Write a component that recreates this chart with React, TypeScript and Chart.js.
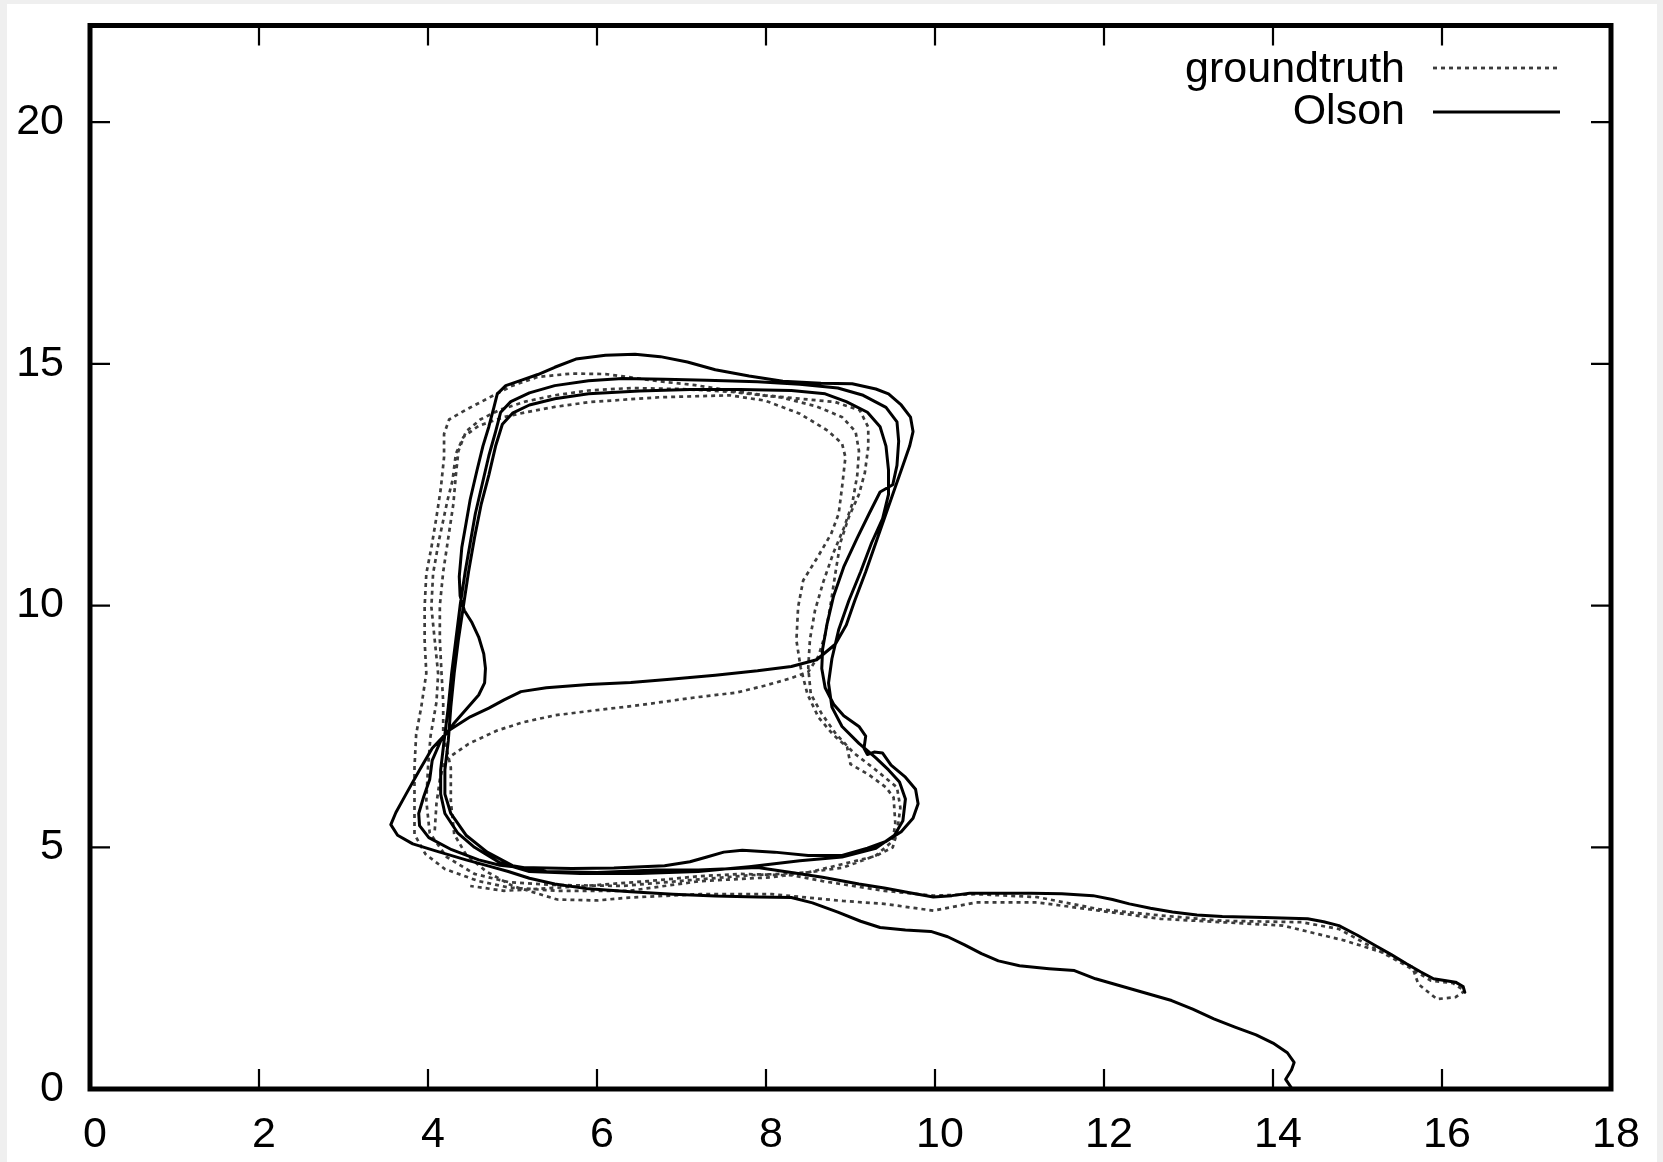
import { useEffect, useRef } from 'react';
import { Chart, registerables } from 'chart.js';

Chart.register(...registerables);

// ---- axes ----
const X_MIN = 0;
const X_MAX = 18;
const Y_MIN = 0;
const Y_MAX = 22;
const xTickValues = [0, 2, 4, 6, 8, 10, 12, 14, 16, 18];
const yTickValues = [0, 5, 10, 15, 20];
const seriesNames = ['groundtruth', 'Olson'];

// ---- Olson (solid) trajectory pieces, [x, y] ----
const olsonLowerBranch = [
  [14.22, 0.02], [14.15, 0.2], [14.22, 0.4], [14.25, 0.55], [14.17, 0.75], [14.0, 0.95], [13.8, 1.12],
  [13.55, 1.28], [13.3, 1.45], [13.05, 1.65], [12.8, 1.83], [12.5, 1.98], [12.2, 2.13], [11.9, 2.28],
  [11.65, 2.45], [11.35, 2.49], [11.0, 2.55], [10.75, 2.65], [10.55, 2.8], [10.35, 2.98], [10.15, 3.15],
  [9.95, 3.26], [9.65, 3.29], [9.35, 3.34], [9.12, 3.47], [8.85, 3.66], [8.55, 3.85], [8.3, 3.96],
  [7.9, 3.97], [7.4, 3.99], [6.9, 4.03], [6.4, 4.08], [5.9, 4.14], [5.5, 4.24], [5.2, 4.36], [4.95, 4.5],
];
const olsonLoopA = [
  [4.7, 4.62], [4.45, 4.74], [4.1, 4.92], [3.82, 5.07], [3.64, 5.25], [3.56, 5.47], [3.62, 5.72],
  [3.74, 6.1], [3.9, 6.6], [4.05, 7.05], [4.25, 7.42], [4.5, 7.7], [4.72, 7.88], [4.9, 8.05], [5.1, 8.22],
  [5.4, 8.3], [5.9, 8.37], [6.4, 8.41], [6.9, 8.48], [7.4, 8.56], [7.9, 8.65], [8.3, 8.74], [8.6, 8.88],
  [8.82, 9.2], [8.95, 9.6], [9.05, 10.1], [9.18, 10.7], [9.3, 11.3], [9.42, 11.9], [9.52, 12.4],
  [9.62, 12.9], [9.7, 13.3], [9.74, 13.6], [9.71, 13.9], [9.6, 14.15], [9.45, 14.38], [9.3, 14.48],
  [9.02, 14.59], [8.65, 14.6], [8.2, 14.64], [7.8, 14.75], [7.4, 14.88], [7.07, 15.04], [6.75, 15.15],
  [6.45, 15.2], [6.1, 15.18], [5.75, 15.1], [5.5, 14.93], [5.3, 14.78], [5.1, 14.66], [4.92, 14.55],
  [4.82, 14.38], [4.78, 14.1], [4.72, 13.7], [4.65, 13.3], [4.58, 12.8], [4.5, 12.2], [4.45, 11.7],
  [4.4, 11.2], [4.37, 10.6], [4.38, 10.2], [4.43, 9.9], [4.52, 9.65], [4.6, 9.35], [4.66, 9.0],
  [4.68, 8.7], [4.67, 8.4], [4.6, 8.15], [4.45, 7.85], [4.3, 7.55], [4.15, 7.2], [4.05, 6.8], [4.02, 6.4],
  [3.95, 6.05], [3.89, 5.7], [3.9, 5.45], [4.01, 5.2], [4.28, 4.95], [4.6, 4.74], [4.85, 4.63],
  [5.1, 4.58], [5.7, 4.56], [6.2, 4.57], [6.8, 4.62], [7.1, 4.7], [7.3, 4.8], [7.5, 4.9], [7.72, 4.94],
  [8.1, 4.9], [8.5, 4.83], [8.9, 4.83], [9.2, 4.98], [9.42, 5.12], [9.6, 5.32], [9.74, 5.6], [9.8, 5.9],
  [9.77, 6.2], [9.65, 6.45], [9.48, 6.7], [9.38, 6.95], [9.28, 6.97], [9.2, 6.92], [9.16, 7.05],
  [9.18, 7.3], [9.1, 7.5], [8.92, 7.72], [8.8, 7.96], [8.7, 8.3], [8.66, 8.7],
];
const olsonLoopB = [
  [8.67, 9.1], [8.72, 9.6], [8.8, 10.2], [8.92, 10.8], [9.08, 11.4], [9.22, 11.9], [9.35, 12.35],
  [9.5, 12.5], [9.55, 12.9], [9.57, 13.4], [9.55, 13.8], [9.42, 14.1], [9.15, 14.35], [8.85, 14.5],
  [8.4, 14.58], [7.9, 14.63], [7.3, 14.66], [6.8, 14.68], [6.3, 14.7], [5.9, 14.65], [5.5, 14.55],
  [5.2, 14.4], [4.98, 14.22], [4.86, 14.0], [4.8, 13.6], [4.72, 13.1], [4.64, 12.5], [4.56, 11.9],
  [4.5, 11.3], [4.44, 10.7], [4.38, 10.0], [4.33, 9.3], [4.28, 8.6], [4.24, 7.9], [4.19, 7.2],
  [4.15, 6.6], [4.15, 6.1], [4.2, 5.7], [4.35, 5.3], [4.55, 5.0], [4.85, 4.68], [5.2, 4.5], [5.8, 4.46],
  [6.5, 4.46], [7.2, 4.5], [7.8, 4.6], [8.4, 4.72], [8.9, 4.8], [9.3, 4.98], [9.52, 5.25], [9.62, 5.55],
  [9.65, 6.0], [9.58, 6.35], [9.45, 6.6], [9.3, 6.85], [9.1, 7.15], [8.9, 7.5], [8.78, 7.9], [8.74, 8.4],
];
const olsonLoopC = [
  [8.78, 8.9], [8.86, 9.5], [8.98, 10.1], [9.12, 10.7], [9.25, 11.3], [9.38, 11.8], [9.45, 12.3],
  [9.45, 12.8], [9.42, 13.3], [9.35, 13.7], [9.2, 14.0], [8.95, 14.22], [8.7, 14.38], [8.3, 14.45],
  [7.7, 14.47], [7.1, 14.47], [6.5, 14.44], [5.9, 14.38], [5.5, 14.28], [5.2, 14.15], [5.0, 13.98],
  [4.88, 13.75], [4.8, 13.3], [4.72, 12.7], [4.63, 12.1], [4.55, 11.4], [4.48, 10.7], [4.42, 10.0],
  [4.36, 9.3], [4.31, 8.6], [4.27, 7.9], [4.24, 7.2], [4.2, 6.6], [4.2, 6.1], [4.27, 5.7], [4.45, 5.25],
  [4.7, 4.9], [5.0, 4.62], [5.4, 4.5], [6.0, 4.48], [6.7, 4.53],
];
const olsonCorridor = [
  [7.2, 4.53], [7.9, 4.58], [8.3, 4.48], [8.67, 4.38], [9.1, 4.24], [9.4, 4.16], [9.7, 4.06], [9.98, 3.97],
  [10.2, 4.0], [10.41, 4.05], [10.8, 4.05], [11.14, 4.05], [11.5, 4.04], [11.87, 4.0], [12.1, 3.92],
  [12.3, 3.83], [12.55, 3.74], [12.81, 3.66], [13.1, 3.6], [13.4, 3.57], [13.9, 3.55], [14.41, 3.52],
  [14.6, 3.46], [14.78, 3.38], [15.0, 3.18], [15.21, 2.97], [15.4, 2.78], [15.58, 2.59], [15.75, 2.42],
  [15.9, 2.28], [16.05, 2.24], [16.16, 2.21], [16.25, 2.12], [16.27, 2.0],
];

// ---- groundtruth (dotted) trajectory pieces, [x, y] ----
const gtMiddleAndLoop1 = [
  [4.08, 5.35], [4.1, 5.9], [4.14, 6.4], [4.2, 6.8], [4.48, 7.14], [4.81, 7.41], [5.11, 7.58], [5.5, 7.73],
  [5.96, 7.83], [6.5, 7.94], [7.16, 8.1], [7.65, 8.2], [8.0, 8.35], [8.3, 8.5], [8.5, 8.63], [8.62, 8.95],
  [8.7, 9.4], [8.76, 9.97], [8.82, 10.66], [8.88, 11.3], [8.98, 11.83], [9.1, 12.3], [9.17, 12.75],
  [9.21, 13.28], [9.21, 13.69], [9.11, 14.04], [8.82, 14.21], [8.4, 14.28], [7.99, 14.35], [7.57, 14.45],
  [7.16, 14.56], [6.74, 14.64], [6.4, 14.72], [6.1, 14.79], [5.7, 14.8], [5.3, 14.73], [5.0, 14.55],
  [4.7, 14.28], [4.45, 14.05], [4.25, 13.85], [4.19, 13.55], [4.19, 13.07], [4.15, 12.4], [4.1, 11.83],
  [4.04, 11.2], [3.98, 10.66], [3.96, 9.97], [3.96, 9.28], [3.98, 8.6], [3.92, 7.9], [3.86, 7.34],
  [3.84, 6.65], [3.84, 5.96], [3.84, 5.27], [3.97, 4.86], [4.2, 4.55], [4.6, 4.3], [4.95, 4.17],
  [5.53, 4.1], [6.38, 4.1], [7.22, 4.3], [8.07, 4.38], [8.91, 4.58], [9.3, 4.83], [9.5, 5.13], [9.53, 5.5],
  [9.51, 6.03], [9.42, 6.24], [9.21, 6.51], [9.0, 6.72], [8.96, 7.07], [8.79, 7.34], [8.62, 7.69],
  [8.49, 8.17], [8.41, 8.72],
];
const gtLoop2 = [
  [8.36, 9.28], [8.38, 9.97], [8.44, 10.52], [8.61, 11.0], [8.77, 11.48], [8.86, 11.9], [8.9, 12.45],
  [8.94, 13.07], [8.9, 13.35], [8.73, 13.62], [8.4, 13.97], [7.99, 14.24], [7.57, 14.35], [6.74, 14.31],
  [5.91, 14.21], [5.5, 14.11], [5.16, 14.0], [4.9, 13.9], [4.6, 13.72], [4.42, 13.49], [4.33, 13.14],
  [4.29, 12.59], [4.23, 12.17], [4.13, 11.35], [4.06, 10.66], [4.04, 9.97], [4.08, 9.28], [4.12, 8.59],
  [4.1, 8.0], [4.03, 7.3], [4.0, 6.65], [3.98, 5.96], [4.02, 5.3], [4.22, 4.8], [4.55, 4.45], [4.95, 4.28],
  [5.5, 4.22], [6.3, 4.2], [7.1, 4.32], [7.8, 4.42], [8.5, 4.48], [8.9, 4.65], [9.3, 4.82], [9.5, 5.0],
  [9.55, 5.3], [9.59, 5.82], [9.55, 6.24], [9.3, 6.6], [9.04, 6.95], [8.83, 7.34], [8.66, 7.76],
  [8.53, 8.17], [8.5, 8.72],
];
const gtLoop3 = [
  [8.52, 9.3], [8.58, 9.9], [8.68, 10.5], [8.8, 11.1], [8.92, 11.6], [9.02, 12.1], [9.08, 12.7],
  [9.1, 13.2], [9.06, 13.6], [8.9, 13.9], [8.6, 14.12], [8.2, 14.3], [7.6, 14.42], [7.0, 14.48],
  [6.4, 14.5], [5.9, 14.45], [5.5, 14.35], [5.15, 14.22], [4.85, 14.05], [4.62, 13.85], [4.45, 13.6],
  [4.36, 13.2], [4.33, 12.7], [4.3, 12.1], [4.24, 11.4], [4.18, 10.7], [4.14, 10.0], [4.14, 9.3],
  [4.16, 8.6], [4.18, 8.0], [4.18, 7.34], [4.27, 6.65], [4.27, 5.96], [4.31, 5.27], [4.45, 4.85],
  [4.69, 4.5], [5.0, 4.2], [5.53, 3.92], [6.0, 3.9], [6.38, 3.96],
];
const gtCorridor = [
  [7.22, 4.03], [8.07, 4.03], [8.91, 3.89], [9.4, 3.83], [9.98, 3.69], [10.49, 3.86], [11.21, 3.86],
  [11.94, 3.69], [12.67, 3.52], [13.4, 3.45], [14.12, 3.38], [14.85, 3.07], [15.36, 2.79], [15.65, 2.52],
  [15.72, 2.17], [15.94, 1.86], [16.16, 1.9], [16.27, 2.03], [16.13, 2.19], [15.87, 2.24], [15.58, 2.55],
  [15.21, 2.9], [14.78, 3.31], [14.34, 3.45], [13.4, 3.48], [12.67, 3.59], [11.94, 3.72], [11.21, 3.97],
  [10.49, 4.03], [9.98, 4.0], [9.4, 4.1], [8.67, 4.3], [8.31, 4.42], [7.7, 4.45], [7.2, 4.4], [6.6, 4.3],
  [6.0, 4.22], [5.4, 4.15], [4.9, 4.1], [4.5, 4.2],
];

const olsonPath = [olsonLowerBranch, olsonLoopA, olsonLoopB, olsonLoopC, olsonCorridor];
const groundtruthPath = [gtMiddleAndLoop1, gtLoop2, gtLoop3, gtCorridor];

const toPoints = (pieces: number[][][]) =>
  pieces.flat().map(([x, y]) => ({ x, y }));

const FONT = '"Liberation Sans", Arial, Helvetica, sans-serif';
const FONT_SIZE = 43;
const DOT_DASH = [4, 4];
const GT_COLOR = '#3c3c3c';

const frameLegendPlugin = {
  id: 'frameLegend',
  afterDatasetsDraw(chart: any) {
    const { ctx, chartArea: a, scales } = chart;
    const TICK = 20;
    ctx.save();
    ctx.strokeStyle = '#000';
    ctx.lineWidth = 2.2;
    ctx.setLineDash([]);
    ctx.beginPath();
    for (const v of xTickValues) {
      if (v === X_MIN || v === X_MAX) continue;
      const px = scales.x.getPixelForValue(v);
      ctx.moveTo(px, a.bottom);
      ctx.lineTo(px, a.bottom - TICK);
      ctx.moveTo(px, a.top);
      ctx.lineTo(px, a.top + TICK);
    }
    for (const v of yTickValues) {
      if (v === Y_MIN || v === Y_MAX) continue;
      const py = scales.y.getPixelForValue(v);
      ctx.moveTo(a.left, py);
      ctx.lineTo(a.left + TICK, py);
      ctx.moveTo(a.right, py);
      ctx.lineTo(a.right - TICK, py);
    }
    ctx.stroke();
    ctx.lineWidth = 5;
    ctx.strokeRect(a.left, a.top, a.right - a.left, a.bottom - a.top);

    // legend (text right-aligned, sample line to its right)
    ctx.font = `${FONT_SIZE}px ${FONT}`;
    ctx.fillStyle = '#000';
    ctx.textAlign = 'right';
    ctx.textBaseline = 'alphabetic';
    const textRight = 1398;
    const lineX0 = 1426;
    const lineX1 = 1553;
    const rows = [
      { baseline: 78, lineY: 64 },
      { baseline: 120, lineY: 108 },
    ];
    chart.data.datasets.forEach((ds: any, i: number) => {
      const r = rows[i];
      ctx.fillText(seriesNames[i], textRight, r.baseline);
      ctx.beginPath();
      ctx.strokeStyle = ds.borderColor;
      ctx.lineWidth = i === 0 ? 2.8 : 3.2;
      ctx.setLineDash(ds.borderDash || []);
      ctx.moveTo(lineX0, r.lineY);
      ctx.lineTo(lineX1, r.lineY);
      ctx.stroke();
    });
    ctx.restore();
  },
};

export default function App() {
  const canvasRef = useRef<HTMLCanvasElement | null>(null);

  useEffect(() => {
    document.body.style.margin = '0';
    document.body.style.background = '#efefef';
    const canvas = canvasRef.current;
    if (!canvas) return;
    const chart = new Chart(canvas, {
      type: 'scatter',
      data: {
        datasets: [
          {
            label: seriesNames[0],
            data: toPoints(groundtruthPath),
            showLine: true,
            borderColor: GT_COLOR,
            borderWidth: 2.7,
            borderDash: DOT_DASH,
            pointRadius: 0,
            fill: false,
            tension: 0,
            order: 1,
          },
          {
            label: seriesNames[1],
            data: toPoints(olsonPath),
            showLine: true,
            borderColor: '#000',
            borderWidth: 3,
            borderJoinStyle: 'round',
            borderCapStyle: 'round',
            pointRadius: 0,
            fill: false,
            tension: 0,
            order: 0,
          },
        ],
      },
      options: {
        responsive: false,
        animation: false,
        events: [],
        layout: { padding: { top: 21.5, right: 46, bottom: 0, left: 0 } },
        plugins: { legend: { display: false }, tooltip: { enabled: false } },
        scales: {
          x: {
            type: 'linear',
            min: X_MIN,
            max: X_MAX,
            grid: { display: false, drawTicks: false },
            border: { display: false },
            ticks: {
              stepSize: 2,
              includeBounds: false,
              color: '#000',
              padding: 20,
              labelOffset: 5,
              maxRotation: 0,
              autoSkip: false,
              font: { family: FONT, size: FONT_SIZE },
            },
            afterFit: (s: any) => {
              s.height = 73;
              s.paddingLeft = 0;
              s.paddingRight = 0;
              s.paddingTop = 0;
              s.paddingBottom = 0;
            },
          },
          y: {
            type: 'linear',
            min: Y_MIN,
            max: Y_MAX,
            grid: { display: false, drawTicks: false },
            border: { display: false },
            ticks: {
              stepSize: 5,
              includeBounds: false,
              color: '#000',
              padding: 26,
              autoSkip: false,
              font: { family: FONT, size: FONT_SIZE },
            },
            afterFit: (s: any) => {
              s.width = 83;
              s.paddingLeft = 0;
              s.paddingRight = 0;
              s.paddingTop = 0;
              s.paddingBottom = 0;
            },
          },
        },
      },
      plugins: [frameLegendPlugin],
    });
    return () => chart.destroy();
  }, []);

  return (
    <div
      style={{
        position: 'fixed',
        left: 7,
        top: 4,
        width: 1650,
        height: 1158,
        background: '#fff',
      }}
    >
      <canvas ref={canvasRef} width={1650} height={1158} style={{ display: 'block' }} />
    </div>
  );
}
